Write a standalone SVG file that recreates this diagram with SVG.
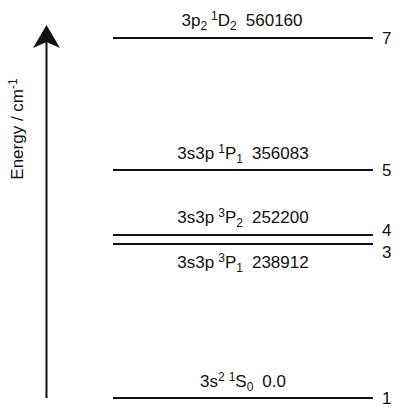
<svg xmlns="http://www.w3.org/2000/svg" width="400" height="413" viewBox="0 0 400 413">
<style>
text{font-family:"Liberation Sans",Arial,sans-serif;fill:#111}
.lbl{font-size:17px;text-anchor:middle}
.num{font-size:17px}
.s{font-size:12px}
.lvl{stroke:#111;stroke-width:2}
</style>
<rect width="400" height="413" fill="#fff"/>
<g id="axis">
<line x1="46.5" y1="40" x2="46.5" y2="398" stroke="#111" stroke-width="2"/>
<polygon points="46.5,25 33,48 46.5,42 60,48" fill="#111"/>
<text transform="translate(23,129) rotate(-90)" font-size="17" text-anchor="middle">Energy / cm<tspan font-size="12" dy="-6">-1</tspan></text>
</g>
<g id="level7">
<line class="lvl" x1="113" y1="38" x2="373" y2="38"/>
<text class="lbl" x="242" y="26">3p<tspan class="s" dy="4">2</tspan><tspan class="s" dx="4" dy="-10">1</tspan><tspan dy="6">D</tspan><tspan class="s" dy="4">2</tspan><tspan dx="9" dy="-4">560160</tspan></text>
<text class="num" x="382" y="44">7</text>
</g>
<g id="level5">
<line class="lvl" x1="113" y1="170" x2="373" y2="170"/>
<text class="lbl" x="243" y="159">3s3p<tspan class="s" dx="4" dy="-6">1</tspan><tspan dy="6">P</tspan><tspan class="s" dy="4">1</tspan><tspan dx="9" dy="-4">356083</tspan></text>
<text class="num" x="382" y="176">5</text>
</g>
<g id="level4">
<line class="lvl" x1="113" y1="235" x2="373" y2="235"/>
<text class="lbl" x="243" y="223">3s3p<tspan class="s" dx="4" dy="-6">3</tspan><tspan dy="6">P</tspan><tspan class="s" dy="4">2</tspan><tspan dx="9" dy="-4">252200</tspan></text>
<text class="num" x="382" y="236">4</text>
</g>
<g id="level3">
<line class="lvl" x1="113" y1="244" x2="373" y2="244"/>
<text class="lbl" x="243" y="268">3s3p<tspan class="s" dx="4" dy="-6">3</tspan><tspan dy="6">P</tspan><tspan class="s" dy="4">1</tspan><tspan dx="9" dy="-4">238912</tspan></text>
<text class="num" x="382" y="258">3</text>
</g>
<g id="level1">
<line class="lvl" x1="113" y1="398" x2="373" y2="398"/>
<text class="lbl" x="243" y="387">3s<tspan class="s" dy="-6">2</tspan><tspan class="s" dx="4">1</tspan><tspan dy="6">S</tspan><tspan class="s" dy="4">0</tspan><tspan dx="9" dy="-4">0.0</tspan></text>
<text class="num" x="382" y="404">1</text>
</g>
</svg>
